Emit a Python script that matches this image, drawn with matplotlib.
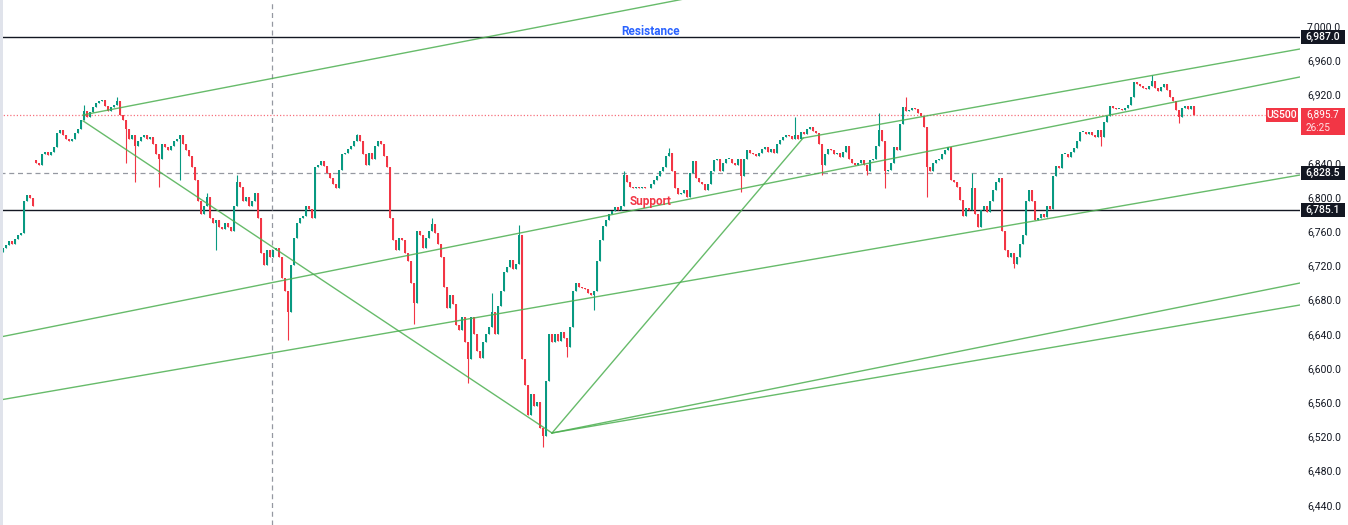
import numpy as np
import matplotlib
matplotlib.use("Agg")
import matplotlib.pyplot as plt
from matplotlib.patches import Rectangle
from matplotlib.transforms import blended_transform_factory

# ---- hourly closes (US500) ----
closes = [
    6740, 6744, 6748, 6745, 6751, 6755, 6758, 6795, 6802, 6799,
    6790, 6840, 6838, 6850, 6853, 6849, 6853, 6858, 6875, 6878,
    6872, 6868, 6866, 6868, 6875, 6880, 6890, 6900, 6893, 6899,
    6905, 6910, 6912, 6914, 6906, 6900, 6905, 6908, 6912, 6896,
    6890, 6880, 6868, 6872, 6860, 6865, 6870, 6872, 6868, 6870,
    6862, 6850, 6845, 6862, 6858, 6855, 6860, 6865, 6868, 6872,
    6862, 6855, 6848, 6835, 6820, 6795, 6780, 6790, 6800, 6775,
    6770, 6773, 6765, 6762, 6770, 6765, 6760, 6790, 6818, 6812,
    6795, 6800, 6790, 6795, 6805, 6775, 6735, 6720, 6738, 6730,
    6738, 6740, 6730, 6705, 6690, 6665, 6720, 6752, 6770, 6776,
    6778, 6790, 6786, 6775, 6835, 6838, 6842, 6836, 6828, 6822,
    6815, 6810, 6832, 6850, 6852, 6856, 6860, 6866, 6872, 6866,
    6850, 6838, 6852, 6845, 6860, 6866, 6862, 6848, 6835, 6775,
    6750, 6738, 6752, 6750, 6735, 6725, 6700, 6676, 6760, 6755,
    6740, 6752, 6760, 6768, 6758, 6745, 6730, 6695, 6670, 6685,
    6675, 6650, 6645, 6660, 6630, 6610, 6660, 6640, 6620, 6612,
    6630, 6640, 6648, 6665, 6640, 6672, 6690, 6712, 6718, 6726,
    6716, 6722, 6755, 6610, 6580, 6545, 6570, 6555, 6560, 6530,
    6520, 6585, 6640, 6630, 6640, 6632, 6642, 6635, 6625, 6648,
    6690, 6700, 6695, 6693, 6692, 6688, 6685, 6690, 6725, 6750,
    6766, 6773, 6780, 6784, 6788, 6785, 6790, 6826, 6818, 6812,
    6810, 6812, 6810, 6812, 6811, 6810, 6815, 6820, 6825, 6830,
    6835, 6848, 6852, 6830, 6810, 6803, 6805, 6808, 6800, 6828,
    6842, 6822, 6817, 6815, 6808, 6815, 6830, 6843, 6845, 6830,
    6840, 6845, 6845, 6840, 6838, 6845, 6825, 6845, 6855, 6852,
    6850, 6848, 6852, 6856, 6858, 6853, 6856, 6852, 6862, 6867,
    6870, 6872, 6871, 6868, 6872, 6868, 6876, 6874, 6880, 6882,
    6877, 6875, 6862, 6838, 6850, 6856, 6855, 6850, 6852, 6847,
    6853, 6860, 6845, 6840, 6837, 6840, 6843, 6838, 6830, 6843,
    6845, 6860, 6878, 6866, 6830, 6832, 6840, 6858, 6855, 6885,
    6905, 6900, 6902, 6904, 6903, 6898, 6895, 6882, 6835, 6830,
    6840, 6843, 6845, 6850, 6855, 6858, 6820, 6818, 6812, 6797,
    6778, 6787, 6785, 6810, 6780, 6765, 6785, 6790, 6782, 6795,
    6808, 6818, 6822, 6760, 6738, 6730, 6735, 6722, 6730, 6745,
    6755, 6795, 6808, 6795, 6773, 6776, 6780, 6777, 6790, 6786,
    6825, 6836, 6834, 6850, 6850, 6847, 6853, 6857, 6866, 6876,
    6876, 6874, 6876, 6872, 6870, 6878, 6870, 6888, 6895, 6907,
    6904, 6903, 6903, 6902, 6904, 6908, 6917, 6934, 6932, 6930,
    6928, 6926, 6930, 6936, 6928, 6924, 6929, 6932, 6925, 6917,
    6912, 6902, 6893, 6904, 6906, 6903, 6907, 6895.7,
]
open_fix = {0: 6736, 11: 6843}          # first bar and the weekend gap
high_spikes = {27: 6908, 38: 6917, 68: 6805, 78: 6826, 118: 6874, 143: 6775,
               163: 6688, 172: 6767, 207: 6830, 222: 6857, 264: 6893,
               292: 6898, 301: 6917, 323: 6828, 383: 6943}
low_spikes = {41: 6840, 44: 6818, 52: 6812, 59: 6820, 71: 6738, 95: 6633,
              137: 6652, 155: 6583, 180: 6508, 188: 6613, 197: 6668,
              246: 6806, 273: 6826, 288: 6826, 294: 6810, 308: 6800,
              337: 6717, 366: 6860, 392: 6887}

# drawn trend lines, (bar index, price) anchors
trend_lines = [
    [(26.7, 6896), (300, 7081)],
    [(26.7, 6889), (183, 6524)],
    [(183, 6524), (266.7, 6869)],
    [(183, 6524), (432.3, 6699.4)],
    [(183, 6524), (432.3, 6673.7)],
    [(-1, 6562.6), (432.3, 6825.7)],
    [(-1, 6636.2), (432.3, 6940.4)],
    [(266.7, 6869), (432.3, 6973.1)],
]
resistance = 6987.0
support = 6785.1
mid_level = 6828.5
last_price = 6895.7
countdown = "26:25"
crosshair_bar = 89.7
y_ticks = np.arange(6440, 7001, 40)

GREEN, RED, INK = "#089981", "#F23645", "#131722"
plt.rcParams["font.family"] = ["Roboto", "DejaVu Sans"]

W, H = 1348, 525
fig = plt.figure(figsize=(W / 100, H / 100), dpi=100)
ax = fig.add_axes([0, 0, 1300 / W, 1])
YLO, YHI = 6416.4, 7030.4
PX = (YHI - YLO) / H   # price per pixel

c = np.array(closes, float)
n = len(c)
x = np.arange(n)
o = np.array([open_fix.get(i, c[i - 1] if i else c[0]) for i in range(n)])
hi = np.array([max(o[i], c[i], high_spikes.get(i, -1e9)) for i in range(n)])
lo = np.array([min(o[i], c[i], low_spikes.get(i, 1e9)) for i in range(n)])
cols = np.where(c >= o, GREEN, RED)

ax.vlines(x, lo, hi, colors=cols, lw=0.8, zorder=3)
ax.bar(x, np.maximum(np.abs(c - o), 0.9), bottom=np.minimum(o, c), width=0.66,
       color=cols, linewidth=0, zorder=3)

for (x0, y0), (x1, y1) in trend_lines:
    ax.plot([x0, x1], [y0, y1], color="#4CAF50", lw=1.0, alpha=0.85, zorder=4)

ax.axhline(resistance, color=INK, lw=1.0, zorder=2)
ax.axhline(support, color=INK, lw=1.0, zorder=2)
ax.axhline(mid_level, color="#9598A1", lw=0.9, ls=(0, (4, 3)), zorder=2)
ax.axvline(crosshair_bar, color="#9598A1", lw=0.9, ls=(0, (4, 3)), zorder=2)
ax.plot([-1, 420.7], [last_price, last_price], color="#F7707D", lw=0.9,
        ls=(0, (1, 1.6)), zorder=2)

ax.text(216, 6994, "Resistance", color="#2962FF", fontsize=8.5, fontweight="bold",
        ha="center", va="center", zorder=5)
ax.text(216, 6795.3, "Support", color=RED, fontsize=8.5, fontweight="bold",
        ha="center", va="center", zorder=5)

ax.set_xlim(-1, 432.33)
ax.set_ylim(YLO, YHI)
for s in ax.spines.values():
    s.set_visible(False)
ax.set_xticks([])
ax.yaxis.tick_right()
ax.set_yticks(y_ticks)
# 6,880 sits under the last-price tag, so it is left blank
ax.set_yticklabels(["" if v == 6880 else f"{v:,.1f}" for v in y_ticks])
ax.tick_params(axis="y", length=0, pad=5, labelsize=7.5, labelcolor=INK)

# price tags on the scale
tr = blended_transform_factory(fig.transFigure, ax.transData)

def tag(price, text, fc, x0=1301, w=44, h=14):
    fig.add_artist(Rectangle((x0 / W, price - h * PX / 2), w / W, h * PX,
                             transform=tr, fc=fc, ec="none", zorder=5))
    fig.text((x0 + w / 2) / W, price, text, transform=tr, color="white",
             fontsize=7.5, fontweight="medium", ha="center", va="center", zorder=6)

tag(resistance, "6,987.0", INK)
tag(mid_level, "6,828.5", INK)
tag(support, "6,785.1", INK)
tag(last_price, "US500", RED, x0=1266, w=32)
fig.add_artist(Rectangle((1301 / W, last_price - 20 * PX), 44 / W, 27 * PX,
                         transform=tr, fc=RED, ec="none", zorder=5))
fig.text(1306 / W, last_price + 0.5 * PX, f"{last_price:,.1f}", transform=tr,
         color="white", fontsize=7.2, ha="left", va="center", zorder=6)
fig.text(1306 / W, last_price - 12.5 * PX, countdown, transform=tr, color="#FFE3E6",
         fontsize=7.2, ha="left", va="center", zorder=6)

fig.add_artist(Rectangle((0, 0), 3 / W, 1, transform=fig.transFigure,
                         fc="#E0E3EB", ec="none", zorder=5))

fig.savefig("out.png", dpi=100)
